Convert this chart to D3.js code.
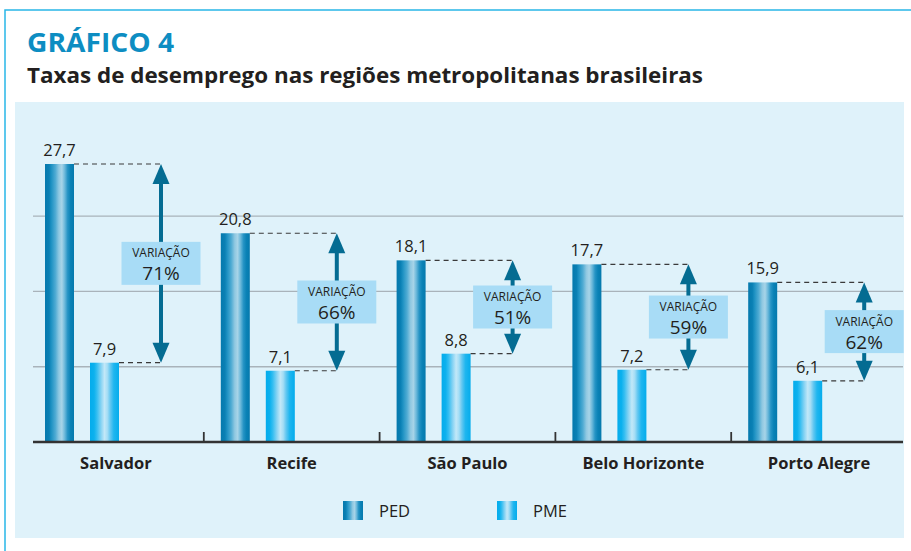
<!DOCTYPE html>
<html><head><meta charset="utf-8">
<script src="https://cdn.jsdelivr.net/npm/d3@7"></script>
<style>html,body{margin:0;padding:0;background:#fff;}svg{display:block;}</style>
</head><body>
<script>
const categories = ["Salvador","Recife","São Paulo","Belo Horizonte","Porto Alegre"];
const ped = [27.7,20.8,18.1,17.7,15.9];
const pme = [7.9,7.1,8.8,7.2,6.1];
const variation = [71,66,51,59,62];
const gridValues = [7.5,15,22.5];
const seriesNames = ["PED","PME"];

const W = 911, H = 551;
const svg = d3.select("body").append("svg").attr("width", W).attr("height", H);
const font = "'Open Sans', 'DejaVu Sans', sans-serif";
const ink = "#231f20";

const defs = svg.append("defs");
function stripes(id, stops){
  const g = defs.append("linearGradient").attr("id", id).attr("x1","0").attr("x2","1").attr("y1","0").attr("y2","0");
  stops.forEach(s => g.append("stop").attr("offset", s[0]).attr("stop-color", s[1]));
}
stripes("gPED", [[0,"#0579ad"],[0.14,"#0a80b4"],[0.22,"#1f92c3"],[0.36,"#4fabd3"],[0.48,"#8fc8e1"],[0.58,"#a7d4e8"],[0.68,"#6bb8da"],[0.78,"#2694c5"],[0.88,"#0a82b6"],[1,"#0579ad"]]);
stripes("gPME", [[0,"#04acec"],[0.14,"#0cb1ee"],[0.24,"#35bef1"],[0.38,"#86d3f3"],[0.5,"#c2e8f8"],[0.6,"#a4ddf5"],[0.7,"#62c7f1"],[0.82,"#1fb6ef"],[1,"#04acec"]]);
const fills = ["url(#gPED)","url(#gPME)"];

// outer border
svg.append("path").attr("d","M5,551 V10 H911").attr("fill","none").attr("stroke","#29b6e8").attr("stroke-width",1.5);
// panel
svg.append("rect").attr("x",15).attr("y",102).attr("width",889).attr("height",436).attr("fill","#dff2fa");

// titles
svg.append("text").attr("x",27).attr("y",52).attr("font-family",font).attr("font-weight",700)
  .attr("font-size",27).attr("fill","#0d8dc2").attr("textLength",147).attr("lengthAdjust","spacingAndGlyphs").text("GRÁFICO 4");
svg.append("text").attr("x",27).attr("y",83).attr("font-family",font).attr("font-weight",700)
  .attr("font-size",21).attr("fill",ink).attr("textLength",676).attr("lengthAdjust","spacingAndGlyphs")
  .text("Taxas de desemprego nas regiões metropolitanas brasileiras");

const x = d3.scaleBand().domain(categories).range([28, 907]).paddingInner(0).paddingOuter(0);
const y = d3.scaleLinear().domain([0, 27.7]).range([442, 164]);
const sub = d3.scalePoint().domain(seriesNames).range([17, 62]);
const bw = 29;
const arrowOff = 133;
const fmt = v => d3.format(".1f")(v).replace(".", ",");

// gridlines
svg.append("g").selectAll("line").data(gridValues).join("line")
  .attr("x1",33).attr("x2",903).attr("y1",d=>y(d)).attr("y2",d=>y(d))
  .attr("stroke","#a9b3ba").attr("stroke-width",1.3);

// bars
const data = categories.map((c,i)=>({c, vals:[ped[i], pme[i]], v:variation[i]}));
const grp = svg.append("g").selectAll("g").data(data).join("g").attr("transform", d=>`translate(${x(d.c)},0)`);
grp.each(function(d){
  const g = d3.select(this);
  seriesNames.forEach((s,j)=>{
    const val = d.vals[j];
    g.append("rect").attr("x", sub(s)).attr("y", y(val)).attr("width", bw).attr("height", y(0)-y(val)).attr("fill", fills[j]);
    g.append("text").attr("x", sub(s)+bw/2).attr("y", y(val)-8).attr("text-anchor","middle")
      .attr("font-family",font).attr("font-size",16.5).attr("fill",ink).text(fmt(val));
    g.append("line").attr("x1", sub(s)+bw).attr("x2", arrowOff).attr("y1", y(val)).attr("y2", y(val))
      .attr("stroke","#3a3a3a").attr("stroke-width",1.2).attr("stroke-dasharray","5,4");
  });
  const yt = y(d.vals[0]), yb = y(d.vals[1]);
  const col = "#046c92", hh = 20, hw = 8.5;
  g.append("line").attr("x1",arrowOff).attr("x2",arrowOff).attr("y1",yt+hh-2).attr("y2",yb-hh+2)
    .attr("stroke",col).attr("stroke-width",4);
  g.append("path").attr("d",`M${arrowOff},${yt} L${arrowOff+hw},${yt+hh} L${arrowOff-hw},${yt+hh} Z`).attr("fill",col);
  g.append("path").attr("d",`M${arrowOff},${yb} L${arrowOff+hw},${yb-hh} L${arrowOff-hw},${yb-hh} Z`).attr("fill",col);
  const cy = (yt+yb)/2;
  g.append("rect").attr("x",arrowOff-39.5).attr("y",cy-21.5).attr("width",79).attr("height",43).attr("fill","#a8dcf6");
  g.append("text").attr("x",arrowOff).attr("y",cy-6).attr("text-anchor","middle").attr("font-family",font)
    .attr("font-size",12).attr("fill",ink).text("VARIAÇÃO");
  g.append("text").attr("x",arrowOff).attr("y",cy+17).attr("text-anchor","middle").attr("font-family",font)
    .attr("font-size",19).attr("fill",ink).text(d.v + "%");
});

// axis
const axis = svg.append("g");
axis.append("line").attr("x1",33).attr("x2",903).attr("y1",y(0)).attr("y2",y(0)).attr("stroke","#333").attr("stroke-width",2.5);
axis.selectAll(".tk").data(categories.slice(1)).join("line").attr("class","tk")
  .attr("x1",d=>x(d)).attr("x2",d=>x(d)).attr("y1",y(0)-10).attr("y2",y(0)).attr("stroke","#333").attr("stroke-width",1.8);
axis.selectAll(".cl").data(categories).join("text").attr("class","cl")
  .attr("x",d=>x(d)+x.bandwidth()/2).attr("y",469).attr("text-anchor","middle")
  .attr("font-family",font).attr("font-weight",700).attr("font-size",16.5).attr("fill",ink).text(d=>d);

// legend
const legX = [343, 497];
const leg = svg.append("g").selectAll("g").data(seriesNames).join("g").attr("transform",(d,i)=>`translate(${legX[i]},501)`);
leg.append("rect").attr("width",20).attr("height",19).attr("fill",(d,i)=>fills[i]);
leg.append("text").attr("x",36).attr("y",16).attr("font-family",font).attr("font-size",16.5).attr("fill",ink).text(d=>d);
</script>
</body></html>
